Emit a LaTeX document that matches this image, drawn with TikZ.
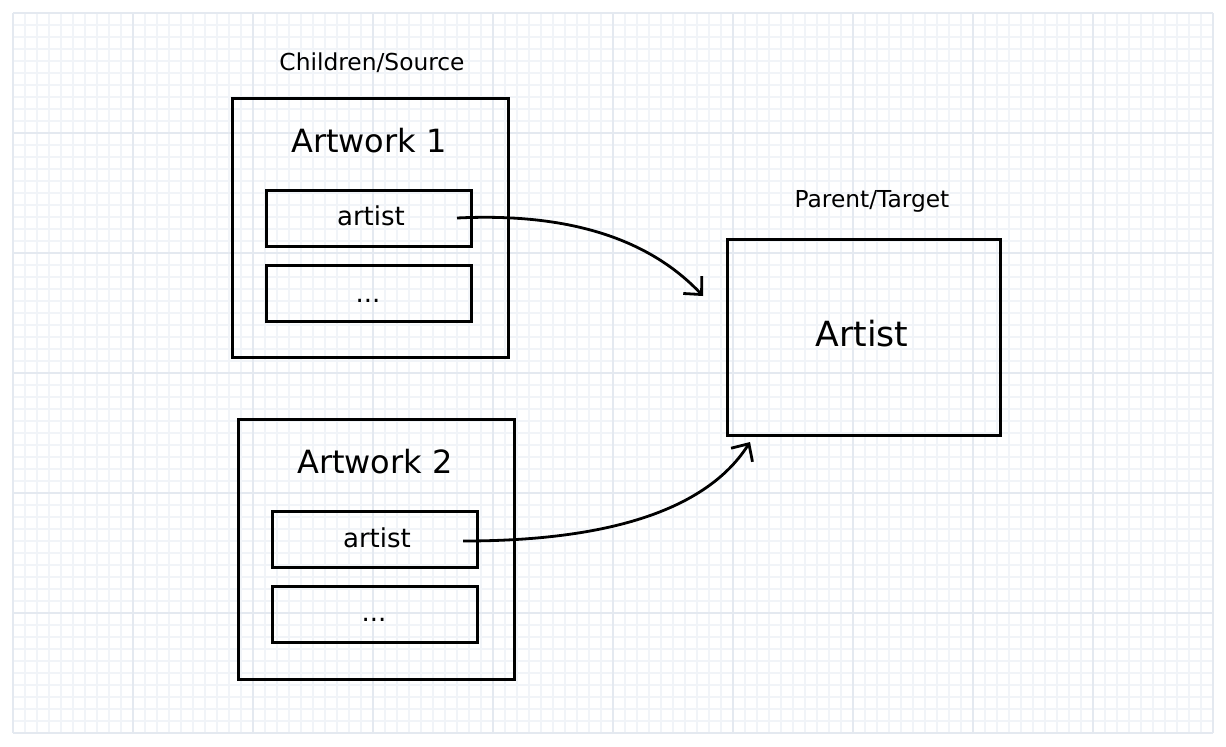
\documentclass[tikz,border=0pt]{standalone}
\usepackage{fontspec}
\setmainfont{DejaVu Sans}
\usetikzlibrary{arrows.meta}
\definecolor{gridminor}{HTML}{F1F4F8}
\definecolor{gridmajor}{HTML}{E4E9F0}
\tikzset{
  box/.style={draw=black, line width=2pt, inner sep=0pt, anchor=north west},
  lbl/.style={inner sep=0pt, font=\fontsize{17.5}{20}\selectfont},
  title/.style={inner sep=0pt, font=\fontsize{24}{28}\selectfont},
  field/.style={inner sep=0pt, font=\fontsize{19.5}{23}\selectfont},
  bigt/.style={inner sep=0pt, font=\fontsize{26}{30}\selectfont},
  conn/.style={line width=2.1pt, -{Straight Barb[length=10pt,width=19pt,line width=2.1pt]}},
}
\begin{document}
\begin{tikzpicture}[x=0.75pt,y=-0.75pt]
\useasboundingbox (0,0) rectangle (1226,746);
\fill[white] (0,0) rectangle (1226,746);
% grid
\foreach \i in {0,...,100} {\draw[gridminor, line width=0.8pt] ({13+12*\i},13) -- ({13+12*\i},733);}
\foreach \j in {0,...,60} {\draw[gridminor, line width=0.8pt] (13,{13+12*\j}) -- (1213,{13+12*\j});}
\foreach \i in {0,...,10} {\draw[gridmajor, line width=1pt] ({13+120*\i},13) -- ({13+120*\i},733);}
\foreach \j in {0,...,6} {\draw[gridmajor, line width=1pt] (13,{13+120*\j}) -- (1213,{13+120*\j});}

% labels
\node[lbl] (chl) at (372,63) {Children/Source};
\node[lbl] (parl) at (872,201) {Parent/Target};

% Artwork 1
\node[box, minimum width=276*0.75pt, minimum height=259*0.75pt] (aw1) at (231,97) {};
\node[title] (aw1t) at (369,141) {Artwork 1};
\node[box, minimum width=205*0.75pt, minimum height=56*0.75pt] (a1) at (265,189) {};
\node[field] (a1t) at (371,216) {artist};
\node[box, minimum width=205*0.75pt, minimum height=56*0.75pt] (d1) at (265,264) {};
\node[field] (d1t) at (368,301) {...};

% Artwork 2
\node[box, minimum width=276*0.75pt, minimum height=260*0.75pt] (aw2) at (237,418) {};
\node[title] (aw2t) at (375,462) {Artwork 2};
\node[box, minimum width=205*0.75pt, minimum height=56*0.75pt] (a2) at (271,510) {};
\node[field] (a2t) at (377,538) {artist};
\node[box, minimum width=205*0.75pt, minimum height=56*0.75pt] (d2) at (271,585) {};
\node[field] (d2t) at (374,620) {...};

% Artist
\node[box, minimum width=273*0.75pt, minimum height=196*0.75pt] (art) at (726,238) {};
\node[bigt] (artt) at (862,334) {Artist};

% connectors
\coordinate (s1) at (457,218);
\coordinate (e1) at (703,296);
\coordinate (s2) at (463,541);
\coordinate (e2) at (750,442);
\draw[conn] (s1) .. controls (580,212) and (655,245) .. (e1);
\draw[conn] (s2) .. controls (620,541) and (710,505) .. (e2);
\end{tikzpicture}
\end{document}
